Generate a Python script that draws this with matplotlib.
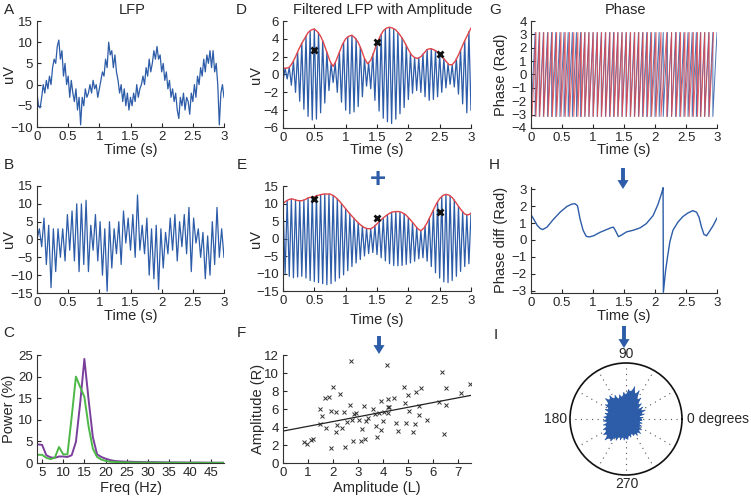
import numpy as np
import matplotlib.pyplot as plt
from matplotlib.patches import FancyArrowPatch

plt.rcParams['font.family'] = ['Liberation Sans', 'DejaVu Sans']

# ---------------- data ----------------
# A: raw LFP (uV), one value every 25 ms from 0 to 3 s
lfp_a = [-2, -5, -5.5, -3, 0, -2, 1, -1, 2, 0,
         4, 6, 5, 9, 10.5, 6, 8, 2, 5, 0,
         2, -3, 1, -2, -4, -1, -6, -3, -9.5, -3,
         -5, -1, -3, -2, 0, -2, 1, -1, 0, -3,
         -1, 1, 3, 2, 6, 4, 10, 7, 8, 4,
         7, 3, 1, -2, 0, -4, -1, -5, -2, -6,
         -3, -5, -2, -4, 0, -3, -1, 0, 2, 0,
         4, 2, 6, 3, 5, 8, 6, 9, 6, 7,
         3, 5, 1, 3, -1, 1, -3, -1, -4, -2,
         -6, -8, -3, -5, -2, -6, -3, -4, -7, -2,
         -4, 0, -3, 2, 0, 4, 2, 6, 3, 7,
         5, 8, 4, 8, 3, 5, 0, -9.5, -2, 0,
         -3]

# B: second LFP, peaks / troughs every 37.5 ms
lfp_b = [0, 3, -2, 6, -7, 4, -13.5, 3, -9, 3,
         -5, 3, -6, 7, -3, 8, -6, 10, -9, 10,
         -7, 11, -9, 4, -3, 7, -6, 5, -10, 3,
         -14.5, 5, -8, 3, -4, 5, -7, 8, -1, 6,
         -3, 7, -5, 12.5, -3, 4, -4, 6, -10, 3,
         -11, 4, -14, 3, -8, 2, -4, 6, -3, 7,
         -6, 5, -2, 7, -4, 9, -9, 6, -1, 3,
         -5, 2, -11, 1, -10, 5, -7, 9, -5, 3,
         -5]

# C: power spectra, 4..48 Hz
freqs = list(range(4, 49))
power_purple = [4.3, 4.2, 1.8, 1.3, 1.2, 1.5, 1.5, 1.4, 1.8, 4.9,
                13.8, 24.1, 14.6, 6.0, 2.0, 1.4, 1.0, 0.7, 0.5, 0.4,
                0.35, 0.3, 0.3, 0.25, 0.25, 0.2, 0.2, 0.2, 0.18, 0.17,
                0.15, 0.15, 0.14, 0.13, 0.12, 0.12, 0.11, 0.1, 0.1, 0.09,
                0.08, 0.08, 0.07, 0.07, 0.06]
power_green = [1.9, 1.9, 1.2, 0.9, 1.2, 3.7, 2.0, 2.0, 10.7, 20.0,
               17.6, 15.3, 8.4, 3.3, 1.4, 0.8, 0.5, 0.3, 0.25, 0.2,
               0.15, 0.15, 0.12, 0.1, 0.1, 0.1, 0.08, 0.08, 0.07, 0.07,
               0.06, 0.06, 0.05, 0.05, 0.05, 0.04, 0.04, 0.04, 0.04, 0.03,
               0.03, 0.03, 0.03, 0.03, 0.03]

# D: filtered LFP extremes (every 1/30 s) and amplitude envelope (every 50 ms)
filt_d = [-0.75, 0.7, -0.5, 0.8, -1.2, 1.5, -2.0, 2.5, -3.0, 3.5,
          -3.9, 4.3, -4.7, 4.9, -5.1, 5.1, -5.0, 4.7, -4.3, 3.8,
          -3.2, 2.5, -1.8, 1.2, -0.9, 1.3, -2.0, 2.5, -3.1, 3.6,
          -4.0, 4.2, -4.4, 4.4, -4.2, 4.0, -3.6, 3.1, -2.5, 1.8,
          -1.3, 1.3, -1.6, 2.3, -2.9, 3.5, -4.1, 4.5, -4.9, 5.1,
          -5.3, 5.3, -5.5, 5.1, -5.0, 4.7, -4.4, 4.1, -3.7, 3.3,
          -2.8, 2.4, -2.1, 1.9, -1.8, 1.9, -2.0, 2.3, -2.5, 2.8,
          -2.9, 2.9, -2.8, 2.7, -2.5, 2.3, -2.0, 1.8, -1.5, 1.2,
          -1.1, 1.1, -1.4, 1.8, -2.2, 2.8, -3.3, 3.8, -4.3, 4.8,
          -4.0]
env_d = [0.7, 0.7, 0.8, 1.3, 2.0, 2.8, 3.5, 4.1, 4.7, 5.0,
         5.1, 4.8, 4.3, 3.5, 2.5, 1.5, 0.9, 1.6, 2.5, 3.4,
         4.0, 4.3, 4.4, 4.1, 3.6, 2.8, 1.8, 1.2, 1.6, 2.5,
         3.5, 4.3, 4.9, 5.2, 5.3, 5.2, 5.0, 4.6, 4.1, 3.5,
         2.8, 2.2, 1.9, 1.8, 2.0, 2.4, 2.8, 2.9, 2.8, 2.6,
         2.3, 1.9, 1.5, 1.1, 1.1, 1.5, 2.2, 3.0, 3.8, 4.5,
         5.2]
mark_t = [0.5, 1.5, 2.5]
mark_d = [2.75, 3.7, 2.3]

# E: second filtered LFP
filt_e = [10.0, -10.0, 10.9, -10.8, 11.3, -11.2, 11.0, -11.0, 10.8, -10.8,
          11.0, -11.3, 11.6, -12.0, 12.0, -12.3, 12.3, -12.6, 12.5, -12.9,
          12.7, -13.2, 12.7, -12.9, 12.3, -12.2, 11.4, -11.3, 10.0, -10.4,
          8.5, -9.2, 7.1, -8.0, 5.8, -7.0, 4.5, -6.0, 3.5, -5.0,
          2.9, -4.3, 2.8, -4.0, 3.8, -4.6, 4.8, -5.5, 5.9, -6.4,
          6.8, -7.2, 7.5, -7.7, 7.7, -7.8, 7.6, -7.7, 7.1, -7.4,
          6.0, -7.0, 4.6, -6.5, 3.2, -5.8, 2.2, -5.5, 3.5, -6.5,
          5.7, -8.0, 8.2, -9.8, 10.5, -11.3, 12.0, -12.4, 12.6, -12.6,
          12.2, -12.0, 11.0, -10.8, 9.2, -9.4, 7.7, -8.0, 6.8, -7.2,
          7.2]
env_e = [10.0, 10.7, 11.2, 11.3, 11.0, 10.8, 10.8, 11.1, 11.6, 11.8,
         11.9, 12.3, 12.5, 12.7, 12.7, 12.7, 12.3, 11.6, 10.7, 9.6,
         8.5, 7.4, 6.4, 5.4, 4.5, 3.7, 3.1, 2.8, 2.8, 3.3,
         4.2, 5.1, 5.9, 6.6, 7.2, 7.6, 7.7, 7.7, 7.4, 6.9,
         6.0, 5.0, 3.9, 2.8, 2.2, 3.0, 4.5, 6.3, 8.2, 10.0,
         11.4, 12.3, 12.6, 12.4, 11.7, 10.5, 9.2, 8.0, 7.0, 6.7,
         7.2]
mark_e = [11.3, 5.9, 7.6]

# F: amplitude left vs right
amp_l = [0.82, 0.94, 1.13, 1.18, 1.48, 1.55, 1.49, 1.69, 1.82, 1.73,
         1.90, 1.92, 1.99, 2.10, 2.12, 2.16, 2.26, 2.37, 2.43, 2.49,
         2.55, 2.66, 2.73, 2.77, 2.81, 2.84, 2.93, 3.05, 3.13, 3.16,
         3.22, 3.27, 3.33, 3.40, 3.60, 3.67, 3.71, 3.74, 3.84, 3.90,
         3.91, 3.98, 4.01, 4.14, 4.17, 4.18, 4.22, 4.20, 4.41, 4.52,
         4.58, 4.81, 4.87, 4.89, 4.99, 5.02, 5.19, 5.26, 5.32, 5.42,
         5.44, 5.52, 5.75, 6.33, 6.24, 6.41, 6.49, 6.49, 7.12, 7.45]
amp_r = [2.34, 2.10, 2.60, 2.64, 5.95, 5.20, 4.30, 7.20, 7.30, 3.90,
         1.70, 5.80, 8.40, 5.70, 3.50, 4.20, 7.70, 3.90, 5.65, 1.75,
         4.55, 6.50, 11.3, 4.80, 2.50, 5.50, 5.60, 4.80, 2.40, 3.80,
         6.30, 2.70, 4.65, 5.05, 6.00, 5.50, 4.10, 2.90, 5.60, 6.90,
         3.70, 4.65, 5.70, 10.9, 7.10, 6.25, 6.25, 5.60, 7.20, 4.40,
         3.55, 8.50, 6.70, 4.50, 7.60, 5.80, 3.50, 4.30, 7.90, 5.30,
         6.30, 8.30, 4.75, 10.1, 6.80, 3.20, 8.30, 6.40, 7.80, 8.75]

# G: times (s) where each phase wraps from +pi to -pi
wraps_blue = [0.000, 0.067, 0.133, 0.200, 0.267, 0.333, 0.400, 0.467, 0.533, 0.600,
              0.667, 0.733, 0.800, 0.867, 0.933, 1.000, 1.067, 1.133, 1.200, 1.267,
              1.333, 1.400, 1.467, 1.533, 1.600, 1.667, 1.733, 1.800, 1.867, 1.933,
              2.000, 2.067, 2.133, 2.200, 2.267, 2.333, 2.400, 2.467, 2.533, 2.600,
              2.667, 2.733, 2.800, 2.867, 2.933, 3.000]
wraps_red = [0.016, 0.080, 0.141, 0.207, 0.276, 0.344, 0.414, 0.484, 0.552, 0.622,
             0.690, 0.756, 0.812, 0.871, 0.936, 1.004, 1.072, 1.139, 1.207, 1.275,
             1.342, 1.403, 1.471, 1.539, 1.607, 1.674, 1.741, 1.809, 1.878, 1.946,
             2.017, 2.097, 2.189, 2.269, 2.343, 2.413, 2.483, 2.551, 2.619, 2.685,
             2.740, 2.804, 2.873, 2.944]

# H: phase difference
diff_t = [0.0, 0.04, 0.1, 0.15, 0.19, 0.26, 0.36, 0.47, 0.58, 0.66,
          0.71, 0.75, 0.79, 0.84, 0.89, 0.94, 1.01, 1.11, 1.22, 1.30,
          1.33, 1.37, 1.41, 1.45, 1.54, 1.65, 1.76, 1.86, 1.97, 2.05,
          2.11, 2.13, 2.135, 2.17, 2.2, 2.24, 2.29, 2.37, 2.45, 2.53,
          2.61, 2.67, 2.71, 2.75, 2.79, 2.83, 2.88, 2.94, 3.0]
diff_v = [1.5, 1.26, 0.87, 0.68, 0.62, 0.77, 1.22, 1.65, 1.99, 2.13,
          2.15, 2.03, 1.26, 0.58, 0.22, 0.18, 0.25, 0.45, 0.62, 0.74,
          0.76, 0.5, 0.2, 0.27, 0.48, 0.58, 0.72, 0.97, 1.45, 2.13,
          2.81, 3.1, -3.1, -1.84, -1.06, -0.1, 0.58, 1.06, 1.39, 1.6,
          1.74, 1.65, 1.35, 0.77, 0.33, 0.25, 0.52, 0.87, 1.3]

# I: polar blob, radius (fraction of outer circle) every 5 degrees
blob_r = [0.26, 0.30, 0.24, 0.33, 0.29, 0.37, 0.31, 0.36, 0.28, 0.38,
          0.34, 0.45, 0.40, 0.55, 0.48, 0.59, 0.50, 0.52, 0.44, 0.47,
          0.40, 0.44, 0.38, 0.46, 0.42, 0.50, 0.45, 0.51, 0.41, 0.44,
          0.36, 0.40, 0.33, 0.38, 0.34, 0.39, 0.35, 0.40, 0.34, 0.41,
          0.37, 0.44, 0.40, 0.48, 0.44, 0.52, 0.45, 0.47, 0.38, 0.41,
          0.34, 0.38, 0.33, 0.37, 0.34, 0.36, 0.30, 0.33, 0.28, 0.32,
          0.30, 0.35, 0.31, 0.36, 0.30, 0.33, 0.27, 0.30, 0.25, 0.29,
          0.24, 0.28]

# ---------------- figure ----------------
W, H = 751, 498
BLUE = '#2d5ca8'
RED = '#e2454a'
TXT = '#262626'
TIME_TICKS = [0, 0.5, 1, 1.5, 2, 2.5, 3]
TIME_LABELS = ['0', '0.5', '1', '1.5', '2', '2.5', '3']

fig = plt.figure(figsize=(W / 100, H / 100), dpi=100)


def panel(l, t, r, b):
    ax = fig.add_axes([l / W, 1 - b / H, (r - l) / W, (b - t) / H])
    for s in ['top', 'right']:
        ax.spines[s].set_visible(False)
    for s in ['left', 'bottom']:
        ax.spines[s].set_color('#333333')
        ax.spines[s].set_linewidth(0.8)
    ax.tick_params(direction='in', length=3, width=0.8, labelsize=9.5,
                   colors=TXT, pad=3)
    return ax


def labels(ax, box, xl, yl, ylab_x, xlab_y):
    l, t, r, b = box
    ax.set_xlabel(xl, fontsize=10.5, color=TXT)
    ax.set_ylabel(yl, fontsize=10.5, color=TXT)
    ax.yaxis.set_label_coords((ylab_x - l) / (r - l), 0.5)
    ax.xaxis.set_label_coords(0.5, -(xlab_y - b) / (b - t))


def time_axis(ax):
    ax.set_xlim(0, 3)
    ax.set_xticks(TIME_TICKS)
    ax.set_xticklabels(TIME_LABELS)


def letter(x, y, s):
    fig.text(x / W, 1 - y / H, s, fontsize=11, color=TXT, ha='center', va='center')


# A
box = (37, 21, 224, 127)
ax = panel(*box)
ax.plot(np.linspace(0, 3, len(lfp_a)), lfp_a, color=BLUE, lw=0.9)
time_axis(ax)
ax.set_ylim(-10, 15)
ax.set_yticks(range(-10, 16, 5))
labels(ax, box, 'Time (s)', 'uV', 16, 143)

# B
box = (37, 186, 224, 293)
ax = panel(*box)
ax.plot(np.linspace(0, 3, len(lfp_b)), lfp_b, color=BLUE, lw=0.9)
time_axis(ax)
ax.set_ylim(-15, 15)
ax.set_yticks(range(-15, 16, 5))
labels(ax, box, 'Time (s)', 'uV', 16, 309)

# C
box = (37, 355, 224, 463)
ax = panel(*box)
ax.plot(freqs, power_purple, color='#7a3f9d', lw=1.4)
ax.plot(freqs, power_green, color='#4db748', lw=1.4)
ax.set_xlim(3.8, 48)
ax.set_ylim(0, 25)
ax.set_xticks(range(5, 50, 5))
ax.set_yticks(range(0, 26, 5))
labels(ax, box, 'Freq (Hz)', 'Power (%)', 16, 481)

# D
box = (283, 21, 471, 128)
ax = panel(*box)
ax.plot(np.linspace(0, 3, len(filt_d)), filt_d, color=BLUE, lw=0.9)
ax.plot(np.linspace(0, 3, len(env_d)), env_d, color=RED, lw=1.0)
ax.plot(mark_t, mark_d, 'x', color='#111111', ms=4.5, mew=2)
time_axis(ax)
ax.set_ylim(-6, 6)
ax.set_yticks(range(-6, 7, 2))
labels(ax, box, 'Time (s)', 'uV', 263, 143)

# E
box = (283, 186, 471, 291)
ax = panel(*box)
ax.plot(np.linspace(0, 3, len(filt_e)), filt_e, color=BLUE, lw=0.9)
ax.plot(np.linspace(0, 3, len(env_e)), env_e, color=RED, lw=1.0)
ax.plot(mark_t, mark_e, 'x', color='#111111', ms=4.5, mew=2)
time_axis(ax)
ax.set_ylim(-15, 15)
ax.set_yticks(range(-15, 16, 5))
labels(ax, box, 'Time (s)', 'uV', 263, 313)

# F
box = (283, 355, 471, 463)
ax = panel(*box)
ax.plot(amp_l, amp_r, 'x', color='#333333', ms=3, mew=0.7)
slope, icpt = np.polyfit(amp_l, amp_r, 1)
xs = np.array([0, 7.5])
ax.plot(xs, icpt + slope * xs, color='#222222', lw=0.9)
ax.set_xlim(0, 7.5)
ax.set_ylim(0, 12)
ax.set_xticks(range(0, 8))
ax.set_yticks(range(0, 13, 2))
labels(ax, box, 'Amplitude (L)', 'Amplitude (R)', 265, 481)

# G
box = (531, 21, 717, 128)
ax = panel(*box)
for wr, col in [(wraps_blue, BLUE), (wraps_red, RED)]:
    wr = np.asarray(wr)
    xs = np.repeat(wr, 2)[1:-1]
    ys = np.tile([-np.pi, np.pi], len(wr) - 1)
    ax.plot(xs, ys, color=col, lw=0.7, alpha=0.85)
time_axis(ax)
ax.set_ylim(-4, 4)
ax.set_yticks(range(-4, 5))
labels(ax, box, 'Time (s)', 'Phase (Rad)', 508, 143)

# H
box = (531, 187, 717, 293)
ax = panel(*box)
ax.plot(diff_t, diff_v, color=BLUE, lw=1.0)
time_axis(ax)
ax.set_ylim(-np.pi, np.pi)
ax.set_yticks(range(-3, 4))
labels(ax, box, 'Time (s)', 'Phase diff (Rad)', 508, 309)

# I  (polar)
cx, cy, rad = 626, 419, 56
pax = fig.add_axes([(cx - rad) / W, 1 - (cy + rad) / H, 2 * rad / W, 2 * rad / H],
                   projection='polar')
theta = np.deg2rad(np.arange(0, 360, 5))
for ang in range(0, 360, 30):
    pax.plot([np.deg2rad(ang)] * 2, [0, 1], color='#555555', lw=0.8, ls=(0, (1, 4)))
pax.fill(theta, blob_r, color=BLUE, lw=0)
for th, rr in zip(theta, blob_r):
    pax.plot([th, th], [0, rr], color=BLUE, lw=0.8)
pax.set_ylim(0, 1)
pax.set_xticks([])
pax.set_yticks([])
pax.grid(False)
pax.spines['polar'].set_color('#111111')
pax.spines['polar'].set_linewidth(1.2)
fig.text(626 / W, 1 - 354 / H, '90', fontsize=10, color=TXT, ha='center', va='center')
fig.text(627 / W, 1 - 484 / H, '270', fontsize=10, color=TXT, ha='center', va='center')
fig.text(567 / W, 1 - 419 / H, '180', fontsize=10, color=TXT, ha='right', va='center')
fig.text(687 / W, 1 - 419 / H, '0 degrees', fontsize=10, color=TXT, ha='left', va='center')

# titles and panel letters
fig.text(132 / W, 1 - 10 / H, 'LFP', fontsize=10.5, color=TXT, ha='center', va='center')
fig.text(383 / W, 1 - 10 / H, 'Filtered LFP with Amplitude', fontsize=10.5,
         color=TXT, ha='center', va='center')
fig.text(626 / W, 1 - 10 / H, 'Phase', fontsize=10.5, color=TXT, ha='center', va='center')
for x, y, s in [(9, 10, 'A'), (9, 165, 'B'), (9, 333, 'C'),
                (241, 10, 'D'), (242, 165, 'E'), (241, 333, 'F'),
                (495, 10, 'G'), (494, 165, 'H'), (496, 335, 'I')]:
    letter(x, y, s)


# blue arrows and plus sign
def down_arrow(x, y0, y1):
    fig.add_artist(FancyArrowPatch((x / W, 1 - y0 / H), (x / W, 1 - y1 / H),
                                   transform=fig.transFigure,
                                   arrowstyle='simple,head_width=1.0,head_length=0.8,tail_width=0.35',
                                   mutation_scale=8, color=BLUE, lw=0,
                                   shrinkA=0, shrinkB=0))


down_arrow(379, 336, 354)
down_arrow(623, 168, 189)
down_arrow(624, 326, 348)
fig.text(378 / W, 1 - 180 / H, '+', fontsize=20, fontweight='bold', color=BLUE,
         ha='center', va='center')

fig.savefig('out.png', dpi=100)
